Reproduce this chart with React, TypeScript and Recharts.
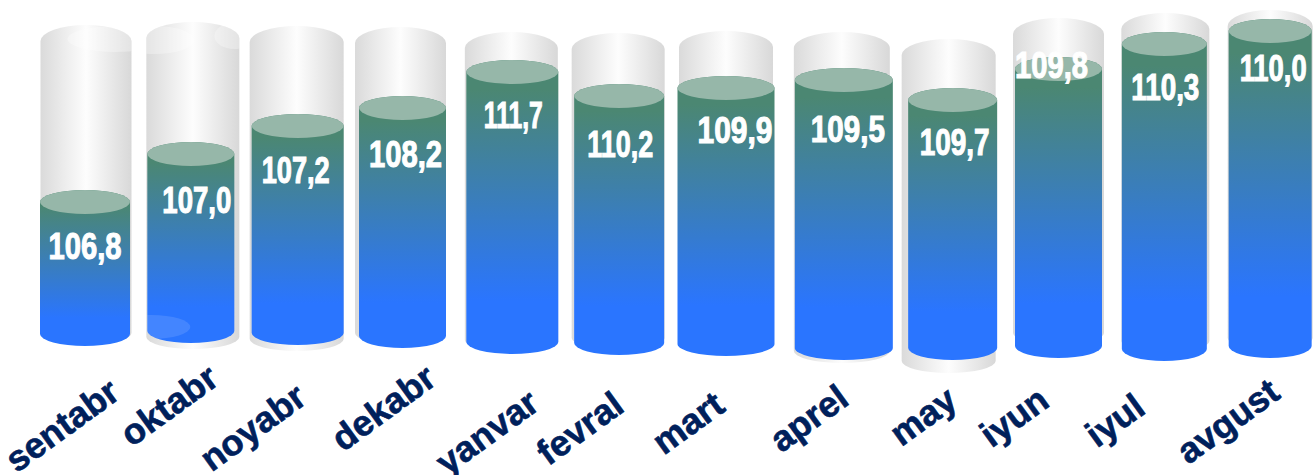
import { Bar, BarChart, LabelList, XAxis, YAxis } from "recharts";

const months = ["sentabr", "oktabr", "noyabr", "dekabr", "yanvar", "fevral", "mart", "aprel", "may", "iyun", "iyul", "avgust"];
const indexValues = [106.8, 107.0, 107.2, 108.2, 111.7, 110.2, 109.9, 109.5, 109.7, 109.8, 110.3, 110.0];

// The source graphic is not drawn to scale, so the levels are read off the picture
const liquidHigh = [175, 223, 251, 269, 305, 281, 289, 297, 277, 308, 333, 346];
const liquidLow = [19, 22, 20, 17, 11, 10, 9, 5, 5, 7, 4, 7];
const glassHigh = [340, 343, 339, 338, 333, 332, 334, 333, 326, 347, 352, 355];
const glassLow = [20, 16, 14, 20, 13, 15, 13, 2, -8, 20, 12, 15];

const data = months.map((month, i) => ({
  month,
  value: indexValues[i],
  liquid: [liquidLow[i], liquidHigh[i]],
  glass: [glassLow[i], glassHigh[i]],
}));

// hand placement: the columns in the source are not evenly spaced
const liquidShift = [0, -2, -3, -6, -4, -5, -6, 4, 5, 3, 1, -1];
const liquidWidth = [90, 87, 92, 87, 92, 90, 97, 98, 89, 87, 85, 83];
const glassShift = [1, 0, -4, -8, -5, -6, -6, 2, 1, 3, 2, -1];
const glassWidth = [91, 93, 94, 91, 93, 93, 94, 96, 94, 91, 88, 85];
const labelShift = [
  [0, 69, 73], [4, 71, 69], [-5, 69, 68], [-3, 71, 73], [-3, 68, 59], [-4, 73, 66],
  [3, 67, 75], [8, 74, 74], [7, 67, 70], [-4, 21, 73], [2, 68, 68], [2, 62, 67],
];
const tickShift = [
  [37, -8], [28, -22], [8, -3], [30, -22], [25, 3], [2, 5],
  [-5, 5], [11, -2], [12, 0], [-4, 0], [-16, 7], [11, -8],
];

function cylinderPath(left: number, top: number, w: number, h: number, ryTop: number, ryBottom: number) {
  const rx = w / 2;
  return `M${left},${top + ryTop} A${rx},${ryTop} 0 0 1 ${left + w},${top + ryTop} L${left + w},${top + h - ryBottom} A${rx},${ryBottom} 0 0 1 ${left},${top + h - ryBottom} Z`;
}

function GlassShape(props: any) {
  const { x, y, width, height, index } = props;
  const w = glassWidth[index];
  const left = x + width / 2 + glassShift[index] - w / 2;
  const clip = `glass-clip-${index}`;
  const path = cylinderPath(left, y, w, height, 16, 12);
  return (
    <g>
      <clipPath id={clip}><path d={path} /></clipPath>
      <path d={path} fill="url(#glassFill)" />
      {index === 0 && <ellipse cx={left + 75} cy={y + 14} rx={48} ry={13} fill="#fff" opacity={0.3} clipPath={`url(#${clip})`} />}
      {index === 1 && <ellipse cx={left + 8} cy={y + 18} rx={40} ry={14} fill="#fff" opacity={0.3} clipPath={`url(#${clip})`} />}
      {index === 1 && <ellipse cx={left + 88} cy={y + 14} rx={20} ry={13} fill="#fff" opacity={0.3} clipPath={`url(#${clip})`} />}
    </g>
  );
}

function LiquidShape(props: any) {
  const { x, y, width, height, index } = props;
  const w = liquidWidth[index];
  const left = x + width / 2 + liquidShift[index] - w / 2;
  const clip = `liquid-clip-${index}`;
  const path = cylinderPath(left, y, w, height, 12, 12);
  return (
    <g>
      <clipPath id={clip}><path d={path} /></clipPath>
      <path d={path} fill="url(#liquidFill)" />
      <ellipse cx={left + w / 2} cy={y + 12} rx={w / 2} ry={12} fill="#96b7a9" />
      {index === 1 && <ellipse cx={left + 4} cy={y + height - 16} rx={39} ry={12} fill="#fff" opacity={0.12} clipPath={`url(#${clip})`} />}
    </g>
  );
}

function ValueLabel(props: any) {
  const { x, y, width, index, value } = props;
  const [dx, dy, textW] = labelShift[index];
  return (
    <text
      x={x + width / 2 + dx}
      y={y + dy}
      textAnchor="middle"
      textLength={textW}
      lengthAdjust="spacingAndGlyphs"
      fill="#fff"
      stroke="#fff"
      strokeWidth={1.1}
      fontFamily="'Liberation Sans Narrow', 'Liberation Sans', sans-serif"
      fontWeight="bold"
      fontSize={37}
    >
      {Number(value).toFixed(1).replace(".", ",")}
    </text>
  );
}

function MonthTick(props: any) {
  const { x, y, index, payload } = props;
  const [dx, dy] = tickShift[index];
  const px = x + dx;
  const py = y + dy;
  return (
    <text
      x={px}
      y={py}
      textAnchor="end"
      transform={`rotate(-36 ${px} ${py})`}
      fill="#00205b"
      stroke="#00205b"
      strokeWidth={0.6}
      fontFamily="'Liberation Sans', Arial, sans-serif"
      fontWeight="bold"
      fontSize={36}
    >
      {payload.value}
    </text>
  );
}

export default function App() {
  return (
    <div style={{ position: "absolute", left: 0, top: 0, width: 1313, height: 475, overflow: "hidden", background: "#fff" }}>
      <BarChart
        width={1325}
        height={475}
        data={data}
        margin={{ top: 0, right: 0, bottom: 0, left: 31 }}
        barCategoryGap={0}
        barGap={0}
      >
        <defs>
          <linearGradient id="glassFill" x1="0" y1="0" x2="1" y2="0">
            <stop offset="0%" stopColor="#dadada" />
            <stop offset="50%" stopColor="#fdfdfd" />
            <stop offset="100%" stopColor="#d8d8d8" />
          </linearGradient>
          <linearGradient id="liquidFill" x1="0" y1="0" x2="0" y2="1">
            <stop offset="0%" stopColor="#4b8772" />
            <stop offset="10%" stopColor="#4b8772" />
            <stop offset="82%" stopColor="#2a75ff" />
            <stop offset="100%" stopColor="#2a75ff" />
          </linearGradient>
        </defs>
        <XAxis
          xAxisId="main"
          dataKey="month"
          height={100}
          axisLine={false}
          tickLine={false}
          tickSize={0}
          tickMargin={0}
          interval={0}
          tick={MonthTick}
        />
        <XAxis xAxisId="back" dataKey="month" hide />
        <YAxis hide domain={[-10, 365]} allowDataOverflow />
        <Bar xAxisId="back" dataKey="glass" shape={GlassShape} isAnimationActive={false} />
        <Bar xAxisId="main" dataKey="liquid" shape={LiquidShape} isAnimationActive={false}>
          <LabelList dataKey="value" content={ValueLabel} />
        </Bar>
      </BarChart>
    </div>
  );
}
